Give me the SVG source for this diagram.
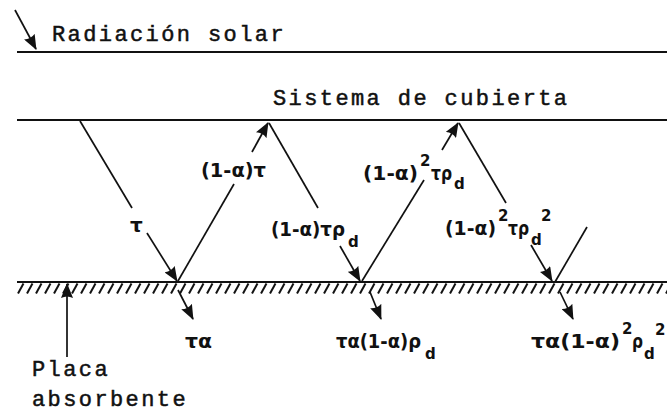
<svg xmlns="http://www.w3.org/2000/svg" width="667" height="412" viewBox="0 0 667 412">
<style>
.mono{font-family:"Liberation Mono","DejaVu Sans Mono",monospace;font-size:22px;fill:#111;stroke:#111;stroke-width:0.5px;letter-spacing:2.4px}
.math{font-family:"DejaVu Sans","Liberation Sans",sans-serif;font-weight:bold;font-size:20px;fill:#111}
.sm{font-size:15px}
.ln{stroke:#111;stroke-width:2.2;fill:none}
.ray{stroke:#111;stroke-width:1.7;fill:none}
.hatch{stroke:#111;stroke-width:2}
</style>
<defs>
<marker id="ah" viewBox="0 0 15 12" refX="14" refY="6" markerWidth="15" markerHeight="12" markerUnits="userSpaceOnUse" orient="auto">
<path d="M0,0 L15,6 L0,12 Q3,6 0,0 Z" fill="#111"/>
</marker>
<pattern id="hp" x="17" y="283" width="9" height="11" patternUnits="userSpaceOnUse">
<line x1="1" y1="10.5" x2="6.5" y2="0.5" class="hatch"/>
</pattern>
</defs>

<g id="radiacion">
<line x1="15" y1="10" x2="36" y2="49" class="ray" marker-end="url(#ah)"/>
<line x1="17" y1="52" x2="667" y2="52" class="ln"/>
<text x="52" y="41" class="mono">Radiación solar</text>
</g>

<g id="cubierta">
<line x1="17" y1="120" x2="667" y2="120" class="ln"/>
<text x="273" y="105" class="mono">Sistema de cubierta</text>
</g>

<g id="placa">
<rect x="17" y="283" width="650" height="11" fill="url(#hp)"/>
<line x1="17" y1="282" x2="667" y2="282" class="ln"/>
<line x1="67" y1="357" x2="67" y2="284" class="ray" marker-end="url(#ah)"/>
<text x="32" y="376" class="mono">Placa</text>
<text x="32" y="406" class="mono">absorbente</text>
</g>

<g id="connectors">
<line x1="80" y1="121" x2="132" y2="208" class="ray"/>
<line x1="147" y1="233" x2="177" y2="281" class="ray" marker-end="url(#ah)"/>
<line x1="178" y1="281" x2="234" y2="184" class="ray"/>
<line x1="252" y1="152" x2="268" y2="123" class="ray" marker-end="url(#ah)"/>
<line x1="269" y1="123" x2="318" y2="208" class="ray"/>
<line x1="340" y1="246" x2="360" y2="281" class="ray" marker-end="url(#ah)"/>
<line x1="362" y1="281" x2="424" y2="180" class="ray"/>
<line x1="442" y1="150" x2="458" y2="123" class="ray" marker-end="url(#ah)"/>
<line x1="459" y1="123" x2="506" y2="203" class="ray"/>
<line x1="531" y1="245" x2="552" y2="281" class="ray" marker-end="url(#ah)"/>
<line x1="555" y1="282" x2="587" y2="227" class="ray"/>
<line x1="178" y1="290" x2="193" y2="319" class="ray" marker-end="url(#ah)"/>
<line x1="370" y1="292" x2="381" y2="319" class="ray" marker-end="url(#ah)"/>
<line x1="560" y1="292" x2="573" y2="319" class="ray" marker-end="url(#ah)"/>
</g>

<g id="lbl-tau"><text x="130" y="232" class="math">τ</text></g>
<g id="lbl-r1"><text x="201" y="177" class="math" textLength="65" lengthAdjust="spacingAndGlyphs">(1-α)τ</text></g>
<g id="lbl-d1"><text class="math"><tspan x="271" y="236" textLength="74" lengthAdjust="spacingAndGlyphs">(1-α)τρ</tspan><tspan x="348" y="247" class="sm">d</tspan></text></g>
<g id="lbl-r2"><text class="math"><tspan x="363" y="180" textLength="55" lengthAdjust="spacingAndGlyphs">(1-α)</tspan><tspan x="420" y="166" class="sm">2</tspan><tspan x="431" y="180" textLength="21" lengthAdjust="spacingAndGlyphs">τρ</tspan><tspan x="454" y="189" class="sm">d</tspan></text></g>
<g id="lbl-d2"><text class="math"><tspan x="445" y="235" textLength="51" lengthAdjust="spacingAndGlyphs">(1-α)</tspan><tspan x="498" y="221" class="sm">2</tspan><tspan x="508" y="235" textLength="21" lengthAdjust="spacingAndGlyphs">τρ</tspan><tspan x="531" y="245" class="sm">d</tspan><tspan x="541" y="221" class="sm">2</tspan></text></g>
<g id="lbl-a1"><text x="185" y="348" class="math" textLength="27" lengthAdjust="spacingAndGlyphs">τα</text></g>
<g id="lbl-a2"><text class="math"><tspan x="336" y="348" textLength="85" lengthAdjust="spacingAndGlyphs">τα(1-α)ρ</tspan><tspan x="425" y="359" class="sm">d</tspan></text></g>
<g id="lbl-a3"><text class="math"><tspan x="531" y="348" textLength="89" lengthAdjust="spacingAndGlyphs">τα(1-α)</tspan><tspan x="622" y="334" class="sm">2</tspan><tspan x="632" y="348" textLength="11" lengthAdjust="spacingAndGlyphs">ρ</tspan><tspan x="644" y="359" class="sm">d</tspan><tspan x="655" y="335" class="sm">2</tspan></text></g>
</svg>
